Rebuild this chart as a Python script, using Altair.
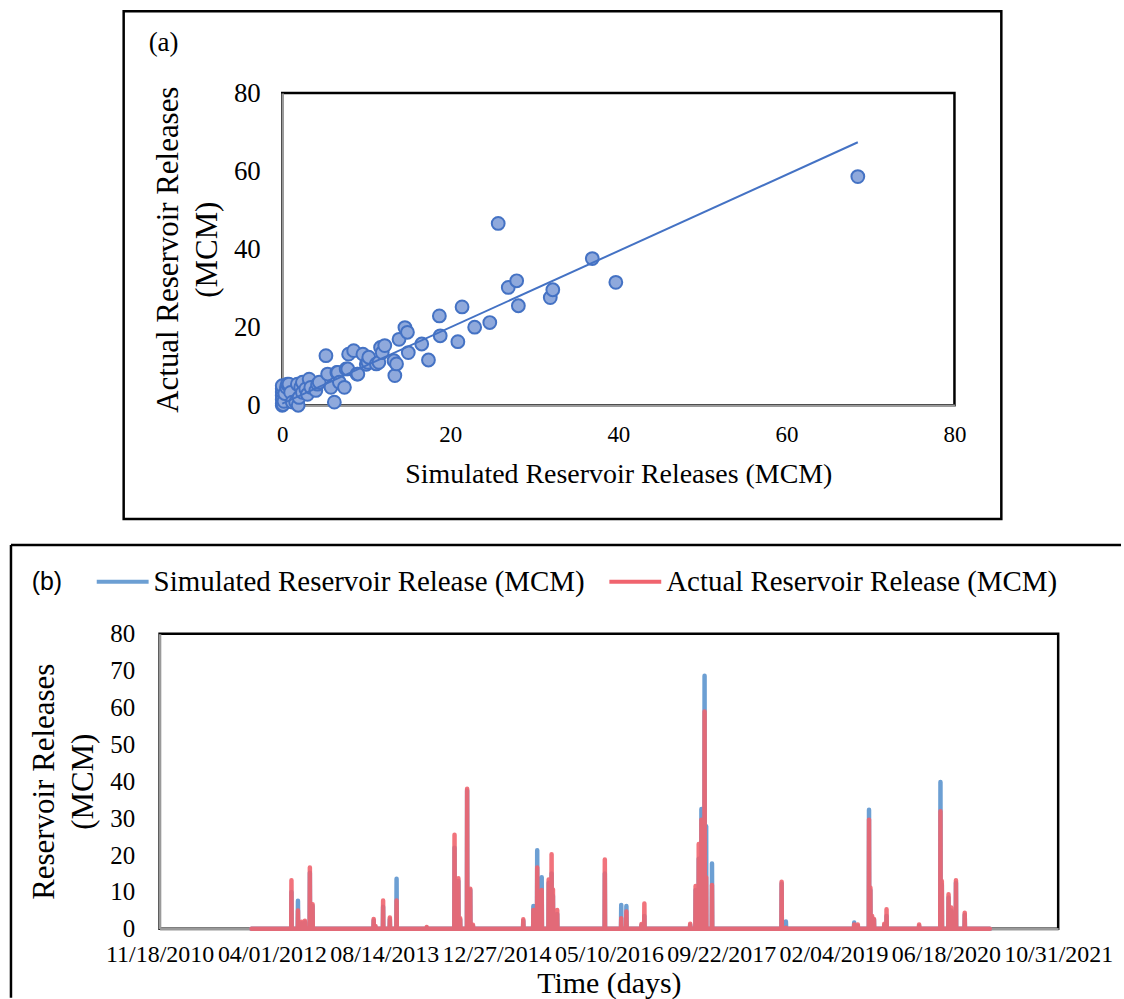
import altair as alt
import pandas as pd

# ---------------- (a) simulated vs. actual releases, MCM ----------------
sim_a = [0.0, 0.0, 0.0, 0.0, 0.0, 0.0, 0.0, 0.1, 0.2, 0.3, 0.5, 0.6, 0.8, 1.0, 1.2,
         1.6, 1.8, 1.9, 2.0, 2.2, 2.4, 2.4, 2.8, 3.0, 3.2, 3.4, 4.0, 4.2, 4.4, 5.2,
         5.4, 5.8, 6.2, 6.5, 6.6, 6.8, 7.4, 7.6, 7.8, 7.9, 8.5, 8.9, 9.0, 9.6, 10.0,
         10.2, 10.3, 11.2, 11.5, 11.7, 11.9, 12.2, 13.3, 13.4, 13.6, 13.9, 14.6, 14.9,
         15.0, 16.6, 17.4, 18.8, 18.7, 20.9, 21.4, 22.9, 24.7, 25.7, 26.9, 27.9, 28.1,
         31.9, 32.2, 36.9, 39.7, 68.5]
act_a = [0.0, 0.5, 1.5, 2.5, 3.4, 4.2, 5.0, 0.2, 1.0, 3.0, 4.6, 5.4, 5.4, 3.3, 0.8,
         0.8, 5.4, 0.0, 2.0, 4.6, 3.3, 5.9, 4.2, 2.8, 6.7, 4.6, 3.8, 5.4, 5.9, 12.7,
         8.0, 4.6, 0.8, 8.4, 8.4, 5.9, 4.6, 9.3, 9.3, 13.1, 14.0, 8.0, 8.0, 13.1, 10.5,
         11.0, 12.3, 10.6, 11.0, 14.8, 13.5, 15.3, 11.4, 7.6, 10.6, 16.9, 19.9, 18.7,
         13.5, 15.7, 11.6, 17.8, 22.9, 16.3, 25.2, 20.0, 21.2, 46.6, 30.2, 31.9, 25.5,
         27.6, 29.6, 37.6, 31.5, 58.6]
trend_x = [0.0, 68.5]
trend_y = [0.4, 67.4]
axis_ticks_a = [0, 20, 40, 60, 80]

# ---------------- (b) daily reservoir releases, MCM ----------------
SIM = "Simulated Reservoir Release (MCM)"
ACT = "Actual Reservoir Release (MCM)"
series_start = "2012-01-01"
series_end = "2020-12-31"
peak_dates = [
    "2012-06-27", "2012-07-26", "2012-08-12", "2012-08-26", "2012-09-17", "2012-09-29",
    "2013-06-28", "2013-07-06", "2013-08-09", "2013-09-08", "2013-10-08", "2014-02-19",
    "2014-06-23", "2014-07-10", "2014-07-18", "2014-08-18", "2014-09-01", "2014-09-13",
    "2015-04-25", "2015-06-09", "2015-06-26", "2015-07-16", "2015-08-16", "2015-08-29",
    "2015-09-04", "2015-09-23", "2016-04-22", "2016-07-04", "2016-07-27", "2016-10-02",
    "2016-10-15", "2017-05-07", "2017-05-31", "2017-06-14", "2017-06-26", "2017-07-10",
    "2017-07-17", "2017-08-12", "2018-06-18", "2018-07-07", "2019-05-07", "2019-05-23",
    "2019-07-12", "2019-07-18", "2019-07-26", "2019-08-03", "2019-09-18", "2019-09-28",
    "2020-02-20", "2020-05-25", "2020-05-31", "2020-06-30", "2020-07-12", "2020-08-02",
    "2020-09-10",
]
peak_sim = [
    10.0, 7.6, 1.5, 1.8, 15.2, 6.2,
    2.3, 0.5, 6.0, 2.6, 13.6, 0.3,
    22.0, 13.0, 2.5, 37.5, 10.5, 0.8,
    2.2, 6.2, 21.3, 14.0, 12.5, 15.0,
    9.0, 4.0, 15.0, 6.5, 6.2, 1.0,
    3.5, 1.0, 10.5, 19.0, 32.5, 68.6,
    27.8, 17.7, 12.3, 2.0, 1.7, 0.8,
    32.3, 10.5, 3.0, 2.5, 1.0, 3.5,
    0.8, 39.8, 12.0, 8.5, 5.0, 12.5,
    3.8,
]
peak_act = [
    13.2, 5.0, 1.9, 2.2, 16.6, 6.7,
    2.7, 0.8, 7.7, 3.1, 7.7, 0.5,
    25.5, 13.7, 2.9, 38.0, 10.9, 1.1,
    2.6, 5.1, 16.6, 10.5, 13.4, 20.2,
    10.7, 5.1, 18.8, 2.9, 4.7, 1.3,
    6.9, 1.4, 11.6, 23.0, 29.6, 58.9,
    14.0, 11.9, 12.8, 0.3, 1.2, 1.2,
    29.6, 11.2, 3.5, 2.7, 1.4, 5.3,
    1.2, 31.9, 13.0, 9.4, 5.8, 13.2,
    4.4,
]
tick_dates = [(2010, 11, 18), (2012, 4, 1), (2013, 8, 14), (2014, 12, 27), (2016, 5, 10),
              (2017, 9, 22), (2019, 2, 4), (2020, 6, 18), (2021, 10, 31)]

SERIF = "Liberation Serif"
SANS = "Liberation Sans"
BLUE = "#6C9FD3"
RED = "#F0646E"
POINT_FILL = "#8FA9DC"
POINT_EDGE = "#4472C4"


def utc_day(y, m, d):
    return alt.DateTime(year=y, month=m, date=d, utc=True)


# daily series: zero on every day except the release days
def daily_rows(name, values):
    day = pd.Timedelta(days=1)
    rows = [(series_start, 0.0)]
    for d, v in zip(peak_dates, values):
        t = pd.Timestamp(d)
        rows += [((t - day).strftime("%Y-%m-%d"), 0.0), (d, v),
                 ((t + day).strftime("%Y-%m-%d"), 0.0)]
    rows.append((series_end, 0.0))
    return pd.DataFrame(rows, columns=["date", "value"]).assign(series=name)


ts = pd.concat([daily_rows(SIM, peak_sim), daily_rows(ACT, peak_act)], ignore_index=True)
scatter_df = pd.DataFrame({"sim": sim_a, "act": act_a})
trend_df = pd.DataFrame({"sim": trend_x, "act": trend_y})
one = pd.DataFrame({"k": [0]})

W_A, H_A = 674, 313
W_B, H_B = 901, 296

# ---------------- panel (a) ----------------
x_a = alt.X("sim:Q", scale=alt.Scale(domain=[0, 80], nice=False),
            axis=alt.Axis(values=axis_ticks_a, title="Simulated Reservoir Releases (MCM)",
                          labelFontSize=23, labelPadding=18, titleFontSize=28,
                          titlePadding=14, labelFlush=False))
y_a = alt.Y("act:Q", scale=alt.Scale(domain=[0, 80], nice=False),
            axis=alt.Axis(values=axis_ticks_a, title=["Actual Reservoir Releases", "(MCM)"],
                          labelFontSize=27, labelPadding=22, titleFontSize=31,
                          titleLineHeight=39, titlePadding=10))

points = alt.Chart(scatter_df).mark_point(
    filled=True, shape="circle", size=165, fill=POINT_FILL, stroke=POINT_EDGE,
    strokeWidth=2, opacity=1, fillOpacity=1
).encode(x=x_a, y=y_a)

trend = alt.Chart(trend_df).mark_line(color=POINT_EDGE, strokeWidth=2).encode(x="sim:Q", y="act:Q")

frame_a = alt.Chart(one).mark_rect(fillOpacity=0, stroke="black", strokeWidth=2.5).encode(
    x=alt.value(-159), x2=alt.value(721), y=alt.value(-82), y2=alt.value(427))

tag_a = alt.Chart(pd.DataFrame({"t": ["(a)"]})).mark_text(
    font=SERIF, fontSize=27, align="center", baseline="middle", color="black"
).encode(text="t:N", x=alt.value(-119), y=alt.value(-50))

panel_a = alt.layer(frame_a, points, trend, tag_a).properties(width=W_A, height=H_A)

spacer = alt.Chart(one).mark_point(opacity=0).encode(
    x=alt.value(0), y=alt.value(0)
).properties(width=123, height=10, view=alt.ViewBackground(stroke="transparent"))

# ---------------- panel (b) ----------------
color_b = alt.Color(
    "series:N",
    scale=alt.Scale(domain=[SIM, ACT], range=[BLUE, RED]),
    legend=alt.Legend(title=None, orient="none", direction="horizontal",
                      legendX=-65, legendY=-80, symbolType="stroke",
                      symbolSize=2704, symbolStrokeWidth=4, symbolOpacity=1,
                      labelFont=SERIF, labelFontSize=29, labelColor="black",
                      labelOffset=3, columnPadding=16, labelLimit=0, padding=0),
)
x_b = alt.X("date:T",
            scale=alt.Scale(type="utc", domain=[utc_day(*tick_dates[0]), utc_day(*tick_dates[-1])]),
            axis=alt.Axis(values=[utc_day(*d) for d in tick_dates],
                          labelExpr="utcFormat(datum.value, '%m/%d/%Y')",
                          labelOverlap=False, labelFlush=False,
                          labelFontSize=24, labelPadding=14, title="Time (days)",
                          titleFontSize=30, titlePadding=2))
y_b = alt.Y("value:Q", scale=alt.Scale(domain=[0, 80], nice=False),
            axis=alt.Axis(values=list(range(0, 81, 10)), title=["Reservoir Releases", "(MCM)"],
                          labelFontSize=25, labelPadding=25, titleFontSize=31,
                          titleLineHeight=39, titlePadding=10))

base_b = alt.Chart(ts).encode(x=x_b, y=y_b, color=color_b)
sim_line = base_b.transform_filter(alt.datum.series == SIM).mark_line(
    strokeWidth=4.5, strokeCap="round", strokeJoin="round")
act_line = base_b.transform_filter(alt.datum.series == ACT).mark_line(
    strokeWidth=4.5, strokeCap="round", strokeJoin="round", opacity=0.9)

frame_b_top = alt.Chart(one).mark_rule(color="black", strokeWidth=2.5).encode(
    x=alt.value(-149), x2=alt.value(964), y=alt.value(-89))
frame_b_left = alt.Chart(one).mark_rule(color="black", strokeWidth=2.5).encode(
    x=alt.value(-149), y=alt.value(-89), y2=alt.value(365))

tag_b = alt.Chart(pd.DataFrame({"t": ["(b)"]})).mark_text(
    font=SANS, fontSize=25, align="center", baseline="middle", color="black"
).encode(text="t:N", x=alt.value(-113), y=alt.value(-52))

panel_b = alt.layer(frame_b_top, frame_b_left, sim_line, act_line, tag_b).properties(
    width=W_B, height=H_B)

# the nested row has no flush height of its own, so the gap carries panel (a)'s height
top_row = alt.hconcat(spacer, panel_a, spacing=0, bounds="flush")
chart = alt.vconcat(top_row, panel_b, spacing=H_A + 229, bounds="flush",
                    padding={"left": 8, "top": 7, "right": 0, "bottom": 0}).configure_view(
    stroke="black", strokeWidth=2.5
).configure_axis(
    grid=False, ticks=False, domainColor="#9a9a9a", domainWidth=2.5,
    labelFont=SERIF, titleFont=SERIF, labelColor="black", titleColor="black",
    titleFontWeight="normal"
).resolve_scale(color="independent")

chart.save("out.html", embed_options={"renderer": "svg", "actions": False})
